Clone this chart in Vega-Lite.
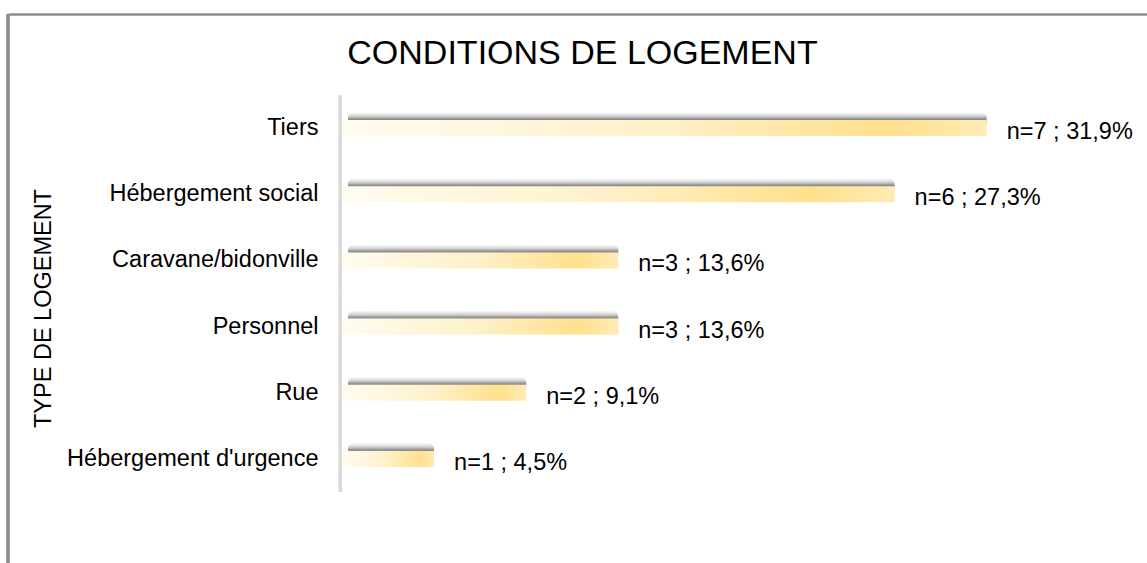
{
  "$schema": "https://vega.github.io/schema/vega-lite/v6.json",
  "width": 1139,
  "height": 549,
  "autosize": {"type": "none"},
  "padding": {"left": 8, "top": 14, "right": 0, "bottom": 0},
  "background": "white",
  "title": {
    "text": "CONDITIONS DE LOGEMENT",
    "font": "Liberation Sans",
    "fontSize": 34,
    "fontWeight": "normal",
    "color": "#000000",
    "anchor": "middle",
    "frame": "group",
    "offset": 0,
    "baseline": "alphabetic",
    "dy": 85,
    "dx": 5
  },
  "config": {"view": {"stroke": null}, "font": "Liberation Sans"},
  "data": {
    "values": [
      {"type": "Tiers", "n": 7, "label": "n=7 ; 31,9%"},
      {"type": "Hébergement social", "n": 6, "label": "n=6 ; 27,3%"},
      {"type": "Caravane/bidonville", "n": 3, "label": "n=3 ; 13,6%"},
      {"type": "Personnel", "n": 3, "label": "n=3 ; 13,6%"},
      {"type": "Rue", "n": 2, "label": "n=2 ; 9,1%"},
      {"type": "Hébergement d'urgence", "n": 1, "label": "n=1 ; 4,5%"}
    ]
  },
  "layer": [
    {
      "mark": {"type": "rule", "color": "#8c8c8c", "strokeWidth": 2.5},
      "encoding": {
        "x": {
          "datum": -3.6265,
          "type": "quantitative",
          "scale": {"domain": [-3.6265, 8.7405], "nice": false, "zero": false},
          "axis": {
            "orient": "top",
            "title": null,
            "labels": false,
            "ticks": false,
            "grid": false,
            "domain": true,
            "domainColor": "#8c8c8c",
            "domainWidth": 2.5
          }
        }
      }
    },
    {
      "mark": {"type": "bar", "height": {"band": 1}, "color": "#d9d9d9"},
      "encoding": {
        "y": {
          "field": "type",
          "type": "nominal",
          "sort": null,
          "scale": {"paddingInner": 0, "paddingOuter": 0, "range": [81, 478]},
          "axis": {
            "orient": "left",
            "offset": -334,
            "domain": false,
            "ticks": false,
            "labelPadding": 24,
            "labelLimit": 0,
            "labelFont": "Liberation Sans",
            "labelFontSize": 23.5,
            "labelColor": "#000000",
            "title": "TYPE DE LOGEMENT",
            "titleFont": "Liberation Sans",
            "titleFontSize": 23.5,
            "titleFontWeight": "normal",
            "titleColor": "#000000",
            "titleX": -299,
            "titleY": 294,
            "titleAngle": 270,
            "titleAlign": "center",
            "titleBaseline": "middle"
          }
        },
        "x": {"datum": -0.038, "type": "quantitative"},
        "x2": {"datum": 0}
      }
    },
    {
      "mark": {
        "type": "bar",
        "size": 16,
        "yOffset": -8,
        "x2Offset": 6,
        "cornerRadiusEnd": 6,
        "color": {
          "gradient": "linear",
          "x1": 0, "y1": 0, "x2": 0, "y2": 1,
          "stops": [
            {"offset": 0, "color": "rgba(110,110,110,0)"},
            {"offset": 0.25, "color": "rgba(110,110,110,0.3)"},
            {"offset": 0.45, "color": "rgba(110,110,110,0.8)"},
            {"offset": 0.52, "color": "rgba(110,110,110,0.75)"},
            {"offset": 0.72, "color": "rgba(110,110,110,0.3)"},
            {"offset": 1, "color": "rgba(110,110,110,0)"}
          ]
        }
      },
      "encoding": {
        "y": {"field": "type", "type": "nominal", "sort": null},
        "x": {"field": "n", "type": "quantitative"},
        "x2": {"datum": 0}
      }
    },
    {
      "mark": {
        "type": "bar",
        "size": 16,
        "color": {
          "gradient": "linear",
          "x1": 0, "y1": 0, "x2": 1, "y2": 0,
          "stops": [
            {"offset": 0, "color": "#fffcf0"},
            {"offset": 0.5, "color": "#fff0c8"},
            {"offset": 0.85, "color": "#ffe08c"},
            {"offset": 1, "color": "#ffebb5"}
          ]
        }
      },
      "encoding": {
        "y": {"field": "type", "type": "nominal", "sort": null},
        "x": {"field": "n", "type": "quantitative"},
        "x2": {"datum": 0}
      }
    },
    {
      "mark": {
        "type": "text",
        "align": "left",
        "baseline": "middle",
        "dx": 20,
        "dy": 4,
        "font": "Liberation Sans",
        "fontSize": 23.5,
        "color": "#000000"
      },
      "encoding": {
        "y": {"field": "type", "type": "nominal", "sort": null},
        "x": {"field": "n", "type": "quantitative"},
        "text": {"field": "label"}
      }
    }
  ]
}
